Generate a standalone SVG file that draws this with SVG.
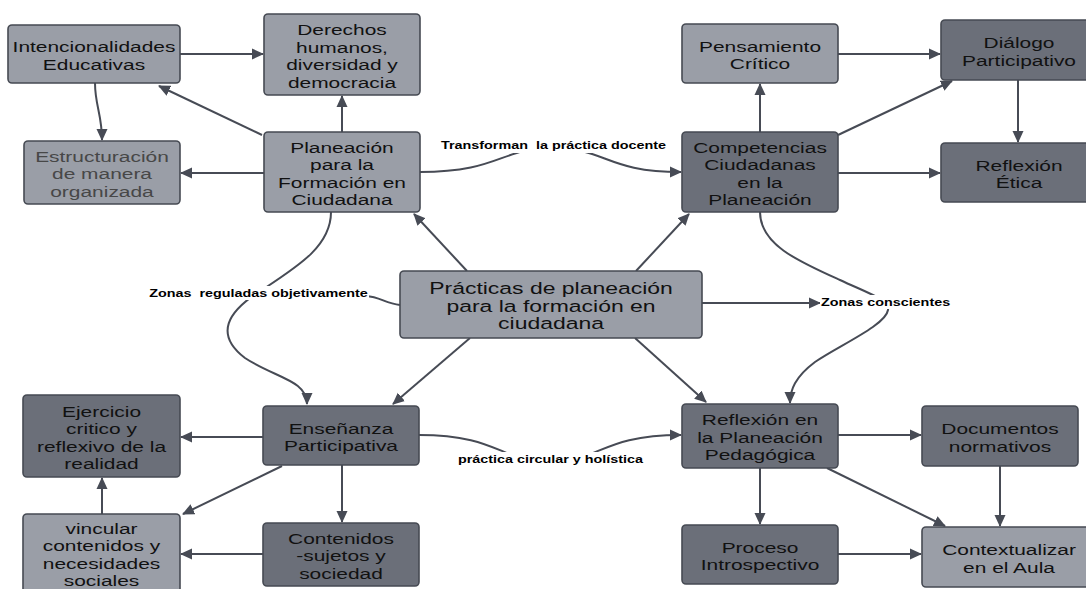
<svg xmlns="http://www.w3.org/2000/svg" width="1086" height="589" viewBox="0 0 1086 589">
<style>
.bx{stroke:#464a53;stroke-width:1.6}
.lt{fill:#9a9ea7}
.dk{fill:#6b6f79}
.t{font-family:"Liberation Sans",Arial,sans-serif;font-size:15.5px;fill:#111;text-anchor:middle}
.tg{fill:#474747}
.tc{font-size:17px}
.lb{font-family:"Liberation Sans",Arial,sans-serif;font-size:11.5px;font-weight:bold;fill:#000;text-anchor:middle}
.c{fill:none;stroke:#474b55;stroke-width:2}
.a{marker-end:url(#ah)}
</style>
<defs>
<marker id="ah" markerWidth="12" markerHeight="12" refX="11" refY="6" orient="auto" markerUnits="userSpaceOnUse">
<path d="M0,0.5 L12,6 L0,11.5 z" fill="#474b55"/>
</marker>
</defs>
<rect width="1086" height="589" fill="#fff"/>

<g id="connectors">
<path class="c a" d="M180,54 L263,54"/>
<path class="c a" d="M262,135 L159,86"/>
<path class="c a" d="M342,132 L342,96"/>
<path class="c a" d="M95,83 C95,105 102,115 102,140"/>
<path class="c a" d="M264,173 L181,173"/>
<path class="c a" d="M420,172 C500,172 500,148 553,148 C606,148 606,172 681,172"/>
<path class="c a" d="M760,132 L760,84"/>
<path class="c a" d="M838,54 L940,54"/>
<path class="c a" d="M838,135 L952,81"/>
<path class="c a" d="M1018,80 L1018,142"/>
<path class="c a" d="M838,173 L940,173"/>
<path class="c a" d="M467,271 L414,214"/>
<path class="c a" d="M636,271 L689,214"/>
<path class="c a" d="M470,338 L393,404"/>
<path class="c a" d="M635,338 L706,402"/>
<path class="c a" d="M702,303 L820,303"/>
<path class="c a" d="M760,212 C760,245 800,262 840,280 C870,294 890,300 888,310 C886,325 840,345 815,362 C795,377 790,390 790,403"/>
<path class="c a" d="M331,212 C331,245 300,265 265,288 C225,312 215,335 245,358 C275,378 307,380 307,404"/>
<path class="c" d="M400,305 C385,303 380,297 366,296"/>
<path class="c a" d="M263,437 L181,437"/>
<path class="c a" d="M282,466 L183,514"/>
<path class="c a" d="M342,465 L342,522"/>
<path class="c a" d="M263,554 L181,554"/>
<path class="c a" d="M102,514 L102,478"/>
<path class="c a" d="M419,435 C500,435 500,462 550,462 C600,462 600,435 681,435"/>
<path class="c a" d="M838,435 L921,435"/>
<path class="c a" d="M760,468 L760,524"/>
<path class="c a" d="M827,468 L945,526"/>
<path class="c a" d="M1000,466 L1000,526"/>
<path class="c a" d="M838,554 L921,554"/>
<rect x="440" y="139" width="228" height="14" fill="#fff"/>
<text class="lb" transform="translate(553.5 0) scale(1.25 1)" x="0" y="149">Transforman&#160; la práctica docente</text>
<rect x="820" y="295" width="133" height="14" fill="#fff"/>
<text class="lb" transform="translate(885.5 0) scale(1.25 1)" x="0" y="306">Zonas conscientes</text>
<rect x="147" y="286" width="222" height="14" fill="#fff"/>
<text class="lb" transform="translate(258.5 0) scale(1.25 1)" x="0" y="297">Zonas&#160; reguladas objetivamente</text>
<rect x="456" y="452" width="190" height="15" fill="#fff"/>
<text class="lb" transform="translate(550.5 0) scale(1.25 1)" x="0" y="463">práctica circular y holística</text>
</g>

<g id="n_intencionalidades">
<rect class="bx lt" x="8" y="25" width="172" height="58" rx="4"/>
<text class="t" transform="translate(94 0) scale(1.35 1)"><tspan x="0" y="52.25">Intencionalidades</tspan><tspan x="0" y="69.75">Educativas</tspan></text>
</g>
<g id="n_derechos">
<rect class="bx lt" x="264" y="14" width="156" height="81" rx="4"/>
<text class="t" transform="translate(342 0) scale(1.35 1)"><tspan x="0" y="35.25">Derechos</tspan><tspan x="0" y="52.75">humanos,</tspan><tspan x="0" y="70.25">diversidad y</tspan><tspan x="0" y="87.75">democracia</tspan></text>
</g>
<g id="n_estructuracion">
<rect class="bx lt" x="24" y="141" width="156" height="63" rx="4"/>
<text class="t tg" transform="translate(102 0) scale(1.35 1)"><tspan x="0" y="162">Estructuración</tspan><tspan x="0" y="179.5">de manera</tspan><tspan x="0" y="197">organizada</tspan></text>
</g>
<g id="n_planeacion">
<rect class="bx lt" x="264" y="132" width="156" height="80" rx="4"/>
<text class="t" transform="translate(342 0) scale(1.35 1)"><tspan x="0" y="152.75">Planeación</tspan><tspan x="0" y="170.25">para la</tspan><tspan x="0" y="187.75">Formación en</tspan><tspan x="0" y="205.25">Ciudadana</tspan></text>
</g>
<g id="n_pensamiento">
<rect class="bx lt" x="682" y="24" width="156" height="59" rx="4"/>
<text class="t" transform="translate(760 0) scale(1.35 1)"><tspan x="0" y="51.75">Pensamiento</tspan><tspan x="0" y="69.25">Crítico</tspan></text>
</g>
<g id="n_dialogo">
<rect class="bx dk" x="941" y="20" width="156" height="60" rx="4"/>
<text class="t" transform="translate(1019 0) scale(1.35 1)"><tspan x="0" y="48.25">Diálogo</tspan><tspan x="0" y="65.75">Participativo</tspan></text>
</g>
<g id="n_competencias">
<rect class="bx dk" x="682" y="132" width="156" height="80" rx="4"/>
<text class="t" transform="translate(760 0) scale(1.35 1)"><tspan x="0" y="152.75">Competencias</tspan><tspan x="0" y="170.25">Ciudadanas</tspan><tspan x="0" y="187.75">en la</tspan><tspan x="0" y="205.25">Planeación</tspan></text>
</g>
<g id="n_reflexion_etica">
<rect class="bx dk" x="941" y="143" width="156" height="59" rx="4"/>
<text class="t" transform="translate(1019 0) scale(1.35 1)"><tspan x="0" y="170.75">Reflexión</tspan><tspan x="0" y="188.25">Ética</tspan></text>
</g>
<g id="n_practicas">
<rect class="bx lt" x="400" y="271" width="302" height="67" rx="4"/>
<text class="t tc" transform="translate(551 0) scale(1.35 1)"><tspan x="0" y="294.5">Prácticas de planeación</tspan><tspan x="0" y="312">para la formación en</tspan><tspan x="0" y="329.5">ciudadana</tspan></text>
</g>
<g id="n_ejercicio">
<rect class="bx dk" x="23" y="395" width="157" height="82" rx="4"/>
<text class="t" transform="translate(101.5 0) scale(1.35 1)"><tspan x="0" y="416.75">Ejercicio</tspan><tspan x="0" y="434.25">critico y</tspan><tspan x="0" y="451.75">reflexivo de la</tspan><tspan x="0" y="469.25">realidad</tspan></text>
</g>
<g id="n_ensenanza">
<rect class="bx dk" x="263" y="406" width="156" height="59" rx="4"/>
<text class="t" transform="translate(341 0) scale(1.35 1)"><tspan x="0" y="433.75">Enseñanza</tspan><tspan x="0" y="451.25">Participativa</tspan></text>
</g>
<g id="n_vincular">
<rect class="bx lt" x="23" y="514" width="157" height="81" rx="4"/>
<text class="t" transform="translate(101.5 0) scale(1.35 1)"><tspan x="0" y="534">vincular</tspan><tspan x="0" y="551.5">contenidos y</tspan><tspan x="0" y="569">necesidades</tspan><tspan x="0" y="586.5">sociales</tspan></text>
</g>
<g id="n_contenidos">
<rect class="bx dk" x="263" y="523" width="156" height="63" rx="4"/>
<text class="t" transform="translate(341 0) scale(1.35 1)"><tspan x="0" y="544">Contenidos</tspan><tspan x="0" y="561.5">-sujetos y</tspan><tspan x="0" y="579">sociedad</tspan></text>
</g>
<g id="n_reflexion_planeacion">
<rect class="bx dk" x="682" y="404" width="156" height="64" rx="4"/>
<text class="t" transform="translate(760 0) scale(1.35 1)"><tspan x="0" y="425.5">Reflexión en</tspan><tspan x="0" y="443">la Planeación</tspan><tspan x="0" y="460.5">Pedagógica</tspan></text>
</g>
<g id="n_documentos">
<rect class="bx dk" x="922" y="406" width="156" height="60" rx="4"/>
<text class="t" transform="translate(1000 0) scale(1.35 1)"><tspan x="0" y="434.25">Documentos</tspan><tspan x="0" y="451.75">normativos</tspan></text>
</g>
<g id="n_proceso">
<rect class="bx dk" x="682" y="525" width="156" height="59" rx="4"/>
<text class="t" transform="translate(760 0) scale(1.35 1)"><tspan x="0" y="552.75">Proceso</tspan><tspan x="0" y="570.25">Introspectivo</tspan></text>
</g>
<g id="n_contextualizar">
<rect class="bx lt" x="922" y="527" width="174" height="60" rx="4"/>
<text class="t" transform="translate(1009 0) scale(1.35 1)"><tspan x="0" y="555.25">Contextualizar</tspan><tspan x="0" y="572.75">en el Aula</tspan></text>
</g>
</svg>
